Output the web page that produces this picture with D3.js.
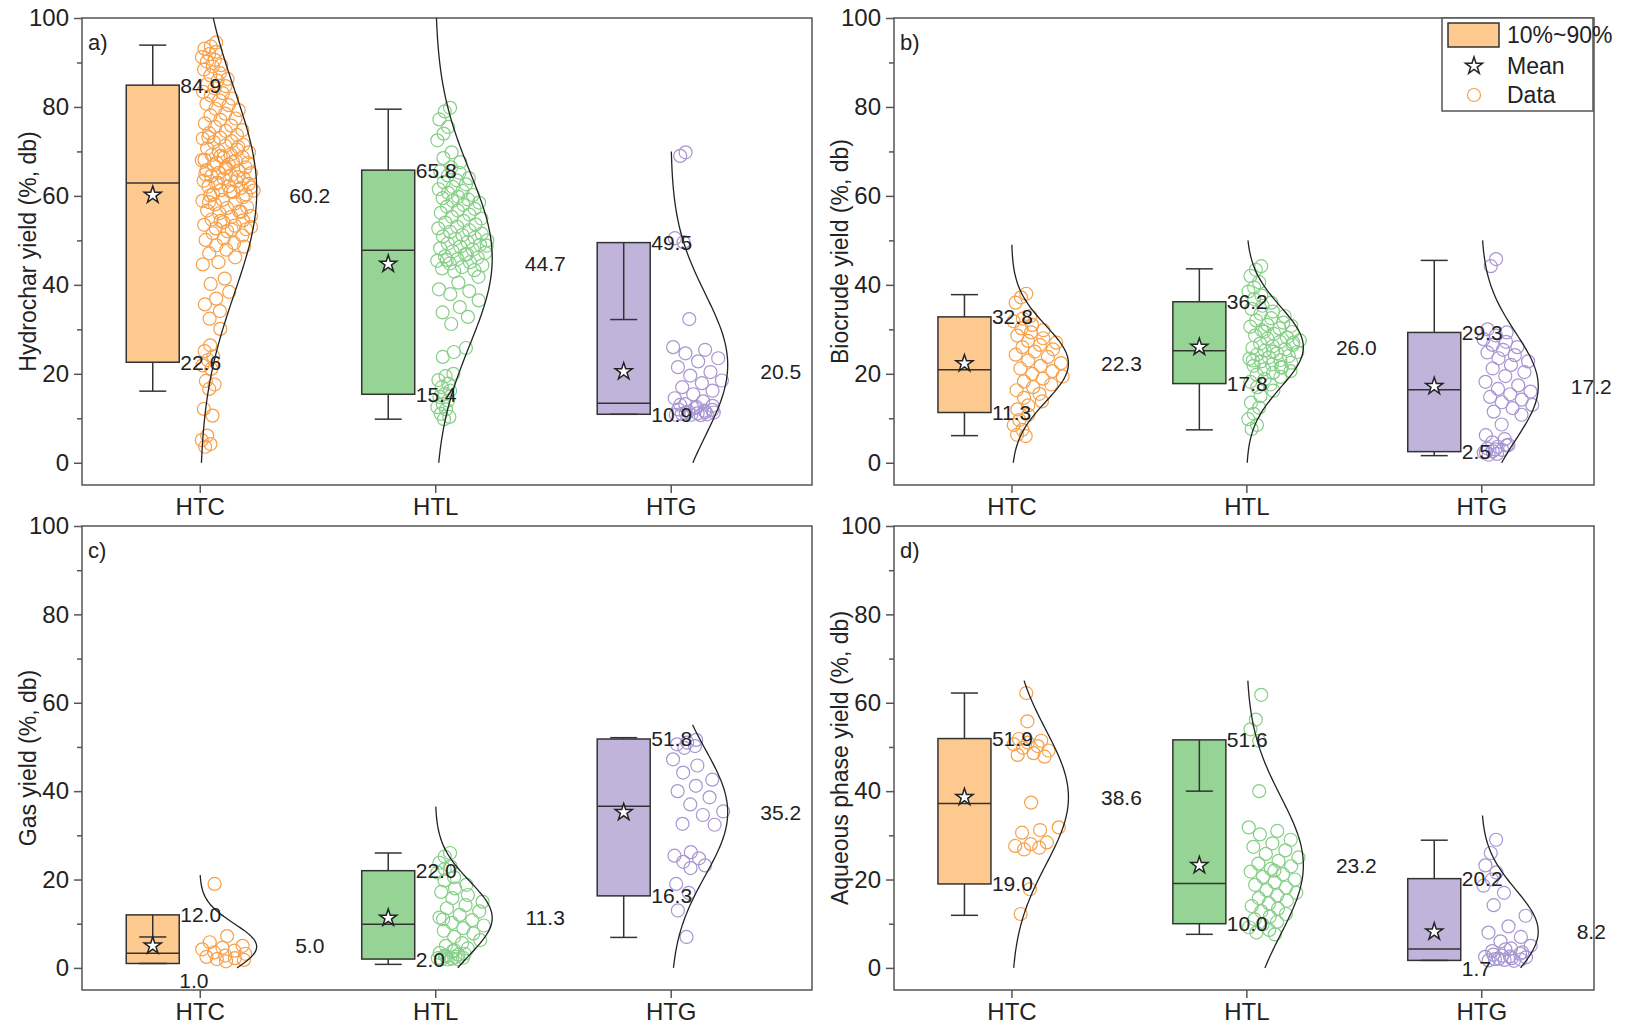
<!DOCTYPE html>
<html>
<head>
<meta charset="utf-8">
<script src="https://cdn.jsdelivr.net/npm/d3@7"></script>
<style>
  body { margin: 0; background: #fff; }
  svg { display: block; }
  text { font-family: "Liberation Sans", Arial, sans-serif; fill: #222; }
</style>
</head>
<body>
<svg width="1633" height="1029"></svg>
<script>
// ---------------- data ----------------
var categories = ["HTC", "HTL", "HTG"];
var panelLetters = ["a)", "b)", "c)", "d)"];
var yTitles = ["Hydrochar yield (%, db)", "Biocrude yield (%, db)", "Gas yield (%, db)", "Aqueous phase yield (%, db)"];
var yTicks = [0, 20, 40, 60, 80, 100];
var yMinorTicks = [10, 30, 50, 70, 90];
var legendLabels = ["10%~90%", "Mean", "Data"];

// per panel (a,b,c,d), per category (HTC, HTL, HTG)
var p10      = [[22.6, 15.4, 10.9], [11.3, 17.8, 2.5], [1.0, 2.0, 16.3], [19.0, 10.0, 1.7]];
var p90      = [[84.9, 65.8, 49.5], [32.8, 36.2, 29.3], [12.0, 22.0, 51.8], [51.9, 51.6, 20.2]];
var medians  = [[62.9, 47.8, 13.4], [20.9, 25.2, 16.4], [3.3, 9.9, 36.6], [37.2, 19.1, 4.3]];
var means    = [[60.2, 44.7, 20.5], [22.3, 26.0, 17.2], [5.0, 11.3, 35.2], [38.6, 23.2, 8.2]];
var whiskLo  = [[16.1, 9.8, 10.9], [6.1, 7.4, 1.6], [1.0, 0.8, 6.9], [11.9, 7.6, 1.7]];
var whiskHi  = [[93.9, 79.5, 32.2], [37.8, 43.6, 45.5], [7.0, 26.0, 52.1], [62.2, 40.0, 28.9]];

// fitted normal curves: centre, spread, extent of the drawn curve
var curveMu  = [[61, 46, 22], [22.3, 26.0, 17.2], [4.8, 11.3, 35.2], [38.6, 23.2, 8.2]];
var curveSd  = [[23, 19.5, 16], [8.5, 9, 12], [5.2, 8.3, 14.3], [15.2, 15.5, 9.5]];
var curveTop = [[100, 100, 70], [49, 50, 50], [21, 36.5, 55], [65, 65, 34.5]];

var hydrocharHTC = [94.5, 93.6, 93.1, 92.4, 91.9, 91.2, 90.6, 90.2, 89.4, 89.1,
  88.4, 87.6, 87.1, 86.3, 85.9, 85.1, 84.7, 84.2, 83.4, 83.1, 82.6, 81.9,
  81.5, 80.7, 80.4, 79.6, 79.3, 78.5, 78.1, 77.4, 77.1, 76.3, 75.8, 75.5, 74.8, 74.6, 74.1,
  73.7, 73.1, 72.9, 72.3, 72.1, 71.5, 71.3, 70.7, 70.4, 70.1, 69.8, 69.3, 69.2, 68.7, 68.6,
  68.1, 67.9, 67.5, 67.4, 67.1, 73.2, 71.0, 69.0, 68.0, 67.6,
  66.9, 66.4, 66.3, 65.8, 65.7, 65.2, 65.1, 64.6, 64.5, 64.0, 63.9, 63.4, 63.3, 62.8, 62.7,
  62.2, 62.1, 61.8, 61.3, 61.2, 60.9, 60.4, 60.3, 66.1, 64.9, 64.2, 63.0, 61.9, 61.0, 60.1,
  59.7, 59.1, 58.9, 58.3, 58.1, 57.5, 57.3, 56.7, 56.5, 56.1, 55.5, 55.3, 54.7, 54.5, 54.1,
  53.5, 53.3, 52.7, 52.5, 52.1, 58.6, 56.4, 54.4, 53.0, 52.4,
  51.6, 51.1, 50.4, 50.1, 49.4, 48.9, 48.6, 47.9, 47.1, 46.2, 45.1, 44.6,
  41.4, 40.2, 38.4, 36.9, 35.6, 34.1, 32.4, 30.1,
  26.4, 25.1, 23.9, 23.1, 21.9, 21.1, 18.4, 17.6, 16.6, 12.1, 10.6, 6.1, 5.1, 4.2, 3.6];
var hydrocharHTL = [79.8, 79.0, 77.2, 75.5, 74.0, 72.5, 69.8, 68.5, 67.6, 66.4, 65.5,
  65.2, 64.6, 64.0, 63.5, 63.1, 62.6, 62.0, 61.5, 61.1, 60.7, 60.2, 59.8, 59.5, 59.2, 58.9,
  58.5, 58.0, 57.6, 57.1, 56.7, 56.2, 55.8, 55.3, 54.9, 54.4, 54.0, 53.6, 53.1, 52.7, 52.3,
  51.9, 51.5, 51.2, 50.9, 50.6,
  50.3, 50.0, 49.6, 49.3, 49.0, 48.6, 48.2, 47.9, 47.5, 47.2, 46.8, 46.4, 46.1, 45.8, 45.4,
  45.1, 44.8, 44.4, 44.0, 43.7, 43.3, 43.0, 48.8, 46.9, 45.6,
  41.8, 40.5, 39.0, 38.6, 37.9, 36.5, 35.0, 33.8, 32.8, 31.2, 25.8, 24.9, 23.8,
  20.0, 19.5, 18.6, 17.8, 17.0, 16.2, 15.5, 14.8, 14.0, 13.2, 12.5, 12.0, 11.0, 10.3, 9.8];
var hydrocharHTG = [69.8, 69.0, 50.5, 49.6, 32.3, 26.0, 25.4, 24.6, 23.5, 22.8, 21.5, 20.4,
  19.6, 18.5, 17.9, 17.0, 16.2, 15.4, 14.5, 13.8, 13.2, 12.8, 12.3, 12.0, 11.7, 11.5, 11.3,
  11.1, 11.0, 10.9, 10.8, 10.8, 10.7, 11.2, 11.9, 12.5, 13.0, 11.4];

var biocrudeHTC = [38.0, 37.2, 36.0, 33.0, 32.4, 31.8, 31.0, 30.2, 29.8, 29.3, 28.6, 28.0,
  27.4, 27.0, 26.5, 26.0, 25.5, 25.0, 24.3, 23.8, 23.0, 22.4, 21.8, 21.2, 20.6, 20.0, 19.4,
  18.9, 18.3, 17.6, 17.0, 16.3, 15.5, 14.6, 13.8, 12.9, 12.0, 10.8, 9.6, 8.5, 7.4, 6.3, 6.0];
var biocrudeHTL = [44.2, 43.4, 42.0, 40.6, 39.4, 38.5, 37.6, 36.8, 36.0, 35.3, 34.6, 34.0,
  33.5, 33.0, 32.5, 32.0, 31.5, 31.0, 30.6, 30.2, 29.8, 29.4, 29.0, 28.6, 28.2, 27.9, 27.5,
  27.2, 26.8, 26.5, 26.2, 25.8, 25.5, 25.2, 24.9, 24.6, 24.3, 24.0, 23.7, 23.4, 23.1, 22.8,
  22.5, 22.1, 21.8, 21.4, 21.0, 20.6, 20.2, 19.8, 19.3, 18.8, 18.2, 17.6, 17.0, 16.2, 15.0,
  13.5, 12.4, 11.0, 9.8, 8.5, 7.6, 27.0, 25.0, 23.0, 21.5, 29.5, 30.8];
var biocrudeHTG = [45.8, 44.2, 30.0, 29.3, 28.6, 27.8, 27.2, 26.5, 26.0, 25.4, 24.8, 24.2,
  23.5, 22.8, 22.0, 21.2, 20.4, 19.5, 18.2, 17.4, 16.6, 16.0, 15.4, 14.8, 14.2, 13.6, 13.0,
  12.3, 11.5, 10.8, 8.6, 6.2, 5.3, 4.6, 4.0, 3.6, 3.2, 2.9, 2.6, 2.3, 2.0, 1.8, 3.9, 3.0, 2.4];

var gasHTC = [19.0, 7.2, 5.8, 5.0, 4.6, 4.2, 3.9, 3.5, 3.2, 2.8, 2.5, 2.2, 2.0, 1.8, 1.5];
var gasHTL = [26.0, 25.2, 23.8, 23.0, 22.4, 21.6, 20.5, 19.8, 18.8, 18.0, 17.2, 16.5, 15.8,
  15.0, 14.2, 13.5, 12.8, 12.0, 11.4, 10.8, 10.2, 9.6, 9.0, 8.4, 7.8, 7.0, 6.3, 5.6, 5.0,
  4.4, 3.8, 3.4, 3.0, 2.6, 2.3, 2.1, 2.0, 2.0, 1.9, 2.2, 2.5, 2.8, 3.2, 4.0, 11.0];
var gasHTG = [51.6, 51.0, 50.6, 50.2, 49.8, 47.2, 45.8, 44.2, 42.6, 41.2, 40.0, 38.6, 37.0,
  35.4, 34.6, 32.6, 32.4, 26.2, 25.4, 24.8, 24.0, 23.2, 22.6, 19.0, 17.0, 13.0, 7.0];

var aqueousHTC = [62.2, 55.8, 51.8, 51.4, 51.0, 50.6, 50.2, 49.8, 49.2, 48.6, 48.2, 47.8,
  37.4, 31.8, 31.2, 30.6, 28.4, 28.0, 27.6, 27.2, 26.8, 17.8, 12.2];
var aqueousHTL = [61.8, 56.2, 54.0, 51.4, 40.0, 31.8, 31.0, 30.2, 29.0, 28.2, 27.4, 26.6,
  25.8, 25.0, 24.2, 23.6, 23.0, 22.4, 21.8, 21.2, 20.6, 20.0, 19.4, 18.8, 18.2, 17.6, 17.0,
  16.4, 15.8, 15.2, 14.6, 14.0, 13.4, 12.8, 12.2, 11.6, 11.0, 10.4, 9.8, 9.2, 8.6, 8.0, 7.6, 22.0];
var aqueousHTG = [29.0, 26.0, 23.2, 21.6, 20.0, 18.6, 17.0, 14.2, 11.8, 9.4, 8.0, 7.0, 6.0,
  5.0, 4.4, 3.8, 3.2, 2.8, 2.5, 2.2, 2.0, 1.9, 1.8, 1.7, 1.6, 2.1, 2.4, 2.6, 3.0, 3.5, 4.2];

var pointSets = [
  [hydrocharHTC, hydrocharHTL, hydrocharHTG],
  [biocrudeHTC, biocrudeHTL, biocrudeHTG],
  [gasHTC, gasHTL, gasHTG],
  [aqueousHTC, aqueousHTL, aqueousHTG]
];

// ---------------- layout / style ----------------
var svg = d3.select("svg");
var boxFill = ["#fdc98e", "#95d495", "#c0b4db"],
    dotStroke = ["#f7a04a", "#86cf87", "#a796d2"],
    darkLine = "#333", frameClr = "#555";

var panels = [
  { x0: 82,  x1: 812,  y0: 18,  y1: 485, xmax: 3.6 },
  { x0: 894, x1: 1594, y0: 18,  y1: 485, xmax: 3.48 },
  { x0: 82,  x1: 812,  y0: 526, y1: 990, xmax: 3.6 },
  { x0: 894, x1: 1594, y0: 526, y1: 990, xmax: 3.48 }
];
var boxOffset = -47, boxW = 53, capW = 27, curveAmp = 57, meanLabelDx = 110;
// a couple of low labels that the original moved off the box edge
var lowLabelNudge = { "2-0": [-1, 17], "3-2": [0, 8] };

var star = d3.symbol().type(d3.symbolStar).size(90);
var fmt = d3.format(".1f");

function pdfWidth(v, m, s){ return curveAmp * Math.exp(-0.5 * Math.pow((v - m) / s, 2)); }

panels.forEach(function(p, pi){
  var x = d3.scaleLinear().domain([0.5, p.xmax]).range([p.x0, p.x1]);
  var y = d3.scaleLinear().domain([-5, 100]).range([p.y1, p.y0]);
  var g = svg.append("g");

  g.append("clipPath").attr("id", "clip" + pi).append("rect")
    .attr("x", p.x0).attr("y", p.y0).attr("width", p.x1 - p.x0).attr("height", p.y1 - p.y0);

  // axes
  g.append("g").attr("transform", "translate(" + p.x0 + ",0)")
    .call(d3.axisLeft(y).tickValues(yTicks).tickSize(8).tickPadding(5));
  g.append("g").attr("transform", "translate(" + p.x0 + ",0)")
    .call(d3.axisLeft(y).tickValues(yMinorTicks).tickSize(5).tickFormat(""));
  g.append("g").attr("transform", "translate(0," + p.y1 + ")")
    .call(d3.axisBottom(x).tickValues([1, 2, 3]).tickSize(8).tickPadding(5)
      .tickFormat(function(d){ return categories[d - 1]; }));
  g.selectAll(".domain").remove();
  g.selectAll(".tick line").attr("stroke", frameClr).attr("stroke-width", 1.5);
  g.selectAll(".tick text").attr("font-size", 24).attr("fill", "#222")
    .attr("font-family", "'Liberation Sans', Arial, sans-serif");

  g.append("rect").attr("x", p.x0).attr("y", p.y0)
    .attr("width", p.x1 - p.x0).attr("height", p.y1 - p.y0)
    .attr("fill", "none").attr("stroke", frameClr).attr("stroke-width", 1.5);

  g.append("text").attr("transform", "translate(" + (p.x0 - 54) + "," + ((p.y0 + p.y1) / 2) + ") rotate(-90)")
    .attr("text-anchor", "middle").attr("dominant-baseline", "central")
    .attr("font-size", 23).text(yTitles[pi]);

  g.append("text").attr("x", p.x0 + 6).attr("y", p.y0 + 24)
    .attr("dominant-baseline", "central").attr("font-size", 22).text(panelLetters[pi]);

  categories.forEach(function(c, ci){
    var X = x(ci + 1), bx = X + boxOffset;

    // box 10%~90%
    g.append("rect").attr("x", bx - boxW / 2).attr("y", y(p90[pi][ci]))
      .attr("width", boxW).attr("height", y(p10[pi][ci]) - y(p90[pi][ci]))
      .attr("fill", boxFill[ci]).attr("stroke", darkLine).attr("stroke-width", 1.5);

    // whiskers
    [[p90[pi][ci], whiskHi[pi][ci]], [p10[pi][ci], whiskLo[pi][ci]]].forEach(function(w){
      g.append("line").attr("x1", bx).attr("x2", bx).attr("y1", y(w[0])).attr("y2", y(w[1]))
        .attr("stroke", darkLine).attr("stroke-width", 1.5);
      g.append("line").attr("x1", bx - capW / 2).attr("x2", bx + capW / 2)
        .attr("y1", y(w[1])).attr("y2", y(w[1]))
        .attr("stroke", darkLine).attr("stroke-width", 1.5);
    });

    // median
    g.append("line").attr("x1", bx - boxW / 2).attr("x2", bx + boxW / 2)
      .attr("y1", y(medians[pi][ci])).attr("y2", y(medians[pi][ci]))
      .attr("stroke", darkLine).attr("stroke-width", 1.5);

    // mean star
    g.append("path").attr("d", star)
      .attr("transform", "translate(" + bx + "," + y(means[pi][ci]) + ")")
      .attr("fill", "#fff").attr("stroke", "#222").attr("stroke-width", 1.5);

    // data points, spread inside the distribution curve
    var m = curveMu[pi][ci], s = curveSd[pi][ci];
    g.append("g").selectAll("circle").data(pointSets[pi][ci]).join("circle")
      .attr("cx", function(d, i){
        var w = Math.max(pdfWidth(d, m, s), 18);
        var u = ((i + 1) * 0.6180339887 + 0.3) % 1;
        return X + 2 + u * (w - 4);
      })
      .attr("cy", function(d){ return y(d); })
      .attr("r", 6.5)
      .attr("fill", "none").attr("stroke", dotStroke[ci]).attr("stroke-width", 1.2);

    // normal curve
    var vals = d3.range(0, curveTop[pi][ci] + 0.001, 0.5);
    g.append("path").datum(vals)
      .attr("clip-path", "url(#clip" + pi + ")")
      .attr("d", d3.line()
        .x(function(v){ return X + pdfWidth(v, m, s); })
        .y(function(v){ return y(v); })
        .curve(d3.curveBasis))
      .attr("fill", "none").attr("stroke", "#222").attr("stroke-width", 1.3);

    // value labels
    g.append("text").attr("x", bx + boxW / 2 + 1).attr("y", y(p90[pi][ci]))
      .attr("dominant-baseline", "central").attr("font-size", 21).text(fmt(p90[pi][ci]));
    var nudge = lowLabelNudge[pi + "-" + ci] || [0, 0];
    g.append("text").attr("x", bx + boxW / 2 + 1 + nudge[0]).attr("y", y(p10[pi][ci]) + nudge[1])
      .attr("dominant-baseline", "central").attr("font-size", 21).text(fmt(p10[pi][ci]));
    g.append("text").attr("x", X + meanLabelDx).attr("y", y(means[pi][ci]))
      .attr("text-anchor", "middle").attr("dominant-baseline", "central")
      .attr("font-size", 21).text(fmt(means[pi][ci]));
  });
});

// legend (panel b)
var lg = svg.append("g");
lg.append("rect").attr("x", 1442).attr("y", 18).attr("width", 151).attr("height", 93)
  .attr("fill", "#fff").attr("stroke", frameClr).attr("stroke-width", 1.5);
lg.append("rect").attr("x", 1448).attr("y", 23).attr("width", 51).attr("height", 24)
  .attr("fill", boxFill[0]).attr("stroke", darkLine).attr("stroke-width", 1.5);
lg.append("path").attr("d", star).attr("transform", "translate(1474,66)")
  .attr("fill", "#fff").attr("stroke", "#222").attr("stroke-width", 1.5);
lg.append("circle").attr("cx", 1474).attr("cy", 95).attr("r", 6.5)
  .attr("fill", "none").attr("stroke", dotStroke[0]).attr("stroke-width", 1.2);
lg.selectAll("text.lab").data(legendLabels).join("text").attr("class", "lab")
  .attr("x", 1507).attr("y", function(d, i){ return [35, 66, 95][i]; })
  .attr("dominant-baseline", "central").attr("font-size", 23).text(function(d){ return d; });
</script>
</body>
</html>
